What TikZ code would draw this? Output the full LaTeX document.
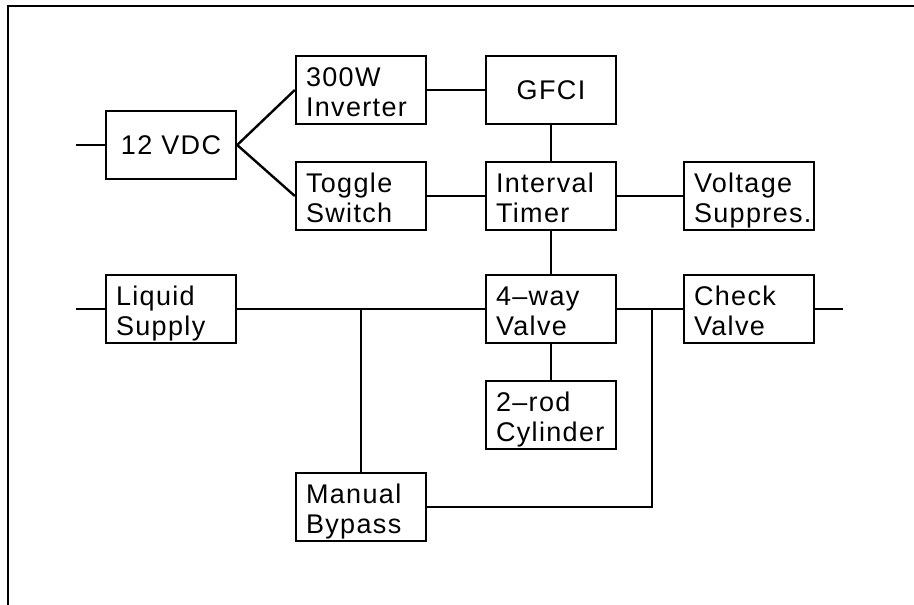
\documentclass[tikz,border=0pt]{standalone}
\usepackage{fontspec}
\setmainfont{Liberation Sans}[LetterSpace=5]
\usepackage{tikz}
\usetikzlibrary{positioning, calc}
\tikzset{
	blocknode/.style={
			draw=black,
			line width=2.4pt,
			rectangle,
			minimum width=130pt,
			minimum height=68pt,
			text width=110pt,
			inner xsep=10pt,
			align=left,
			font=\fontsize{27}{29.5}\selectfont
		},
	twoline/.style={
			blocknode,
			text height=27pt,
			text depth=34pt
		},
	oneline/.style={
			blocknode,
			align=center
		},
	wire/.style={
			draw=black,
			line width=2.4pt
		}
}
\begin{document}
\begin{tikzpicture}[x=1pt, y=-1pt]
\useasboundingbox (0,0) rectangle (914,605);
\draw[wire] (8,605) -- (8,6) -- (914,6);

\node[oneline] (tVDC) at (171,145) {12 VDC};
\node[twoline] (tInv) at (361,90) {300W\\Inverter};
\node[twoline] (tToggle) at (361,196) {Toggle\\Switch};
\node[oneline] (tGFCI) at (551,90) {GFCI};
\node[twoline] (tTimer) at (551,196) {Interval\\Timer};
\node[twoline] (tSupp) at (749,196) {Voltage\\Suppres.};
\node[twoline] (tSupply) at (171,309) {Liquid\\Supply};
\node[twoline] (tValve) at (551,309) {4--way\\Valve};
\node[twoline] (tCheck) at (749,309) {Check\\Valve};
\node[twoline] (tCyl) at (551,415) {2--rod\\Cylinder};
\node[twoline] (tBypass) at (361,507) {Manual\\Bypass};

\coordinate (cIn) at (76,145);
\coordinate (cLiqIn) at (76,309);
\coordinate (cOut) at (843,309);
\coordinate (jA) at (361,309);
\coordinate (jB) at (652,309);

\draw[wire] (cIn) -- (tVDC.west);
\draw[wire] (tVDC.east) -- (tInv.west);
\draw[wire] (tVDC.east) -- (tToggle.west);
\draw[wire] (tInv) -- (tGFCI);
\draw[wire] (tGFCI) -- (tTimer);
\draw[wire] (tToggle) -- (tTimer);
\draw[wire] (tTimer) -- (tSupp);
\draw[wire] (tTimer) -- (tValve);
\draw[wire] (cLiqIn) -- (tSupply.west);
\draw[wire] (tSupply) -- (tValve);
\draw[wire] (tValve) -- (tCheck);
\draw[wire] (tCheck.east) -- (cOut);
\draw[wire] (tValve) -- (tCyl);
\draw[wire] (tBypass.north) -- (jA);
\draw[wire] (tBypass.east) -| (jB);

\end{tikzpicture}
\end{document}
